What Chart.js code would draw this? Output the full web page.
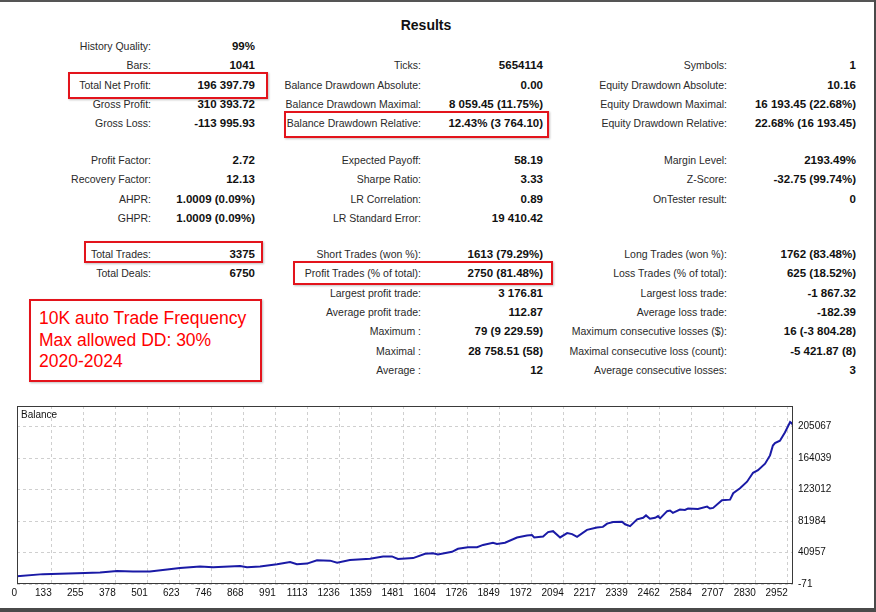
<!DOCTYPE html>
<html><head><meta charset="utf-8">
<script src="https://cdn.jsdelivr.net/npm/chart.js@4.4.1/dist/chart.umd.min.js"></script>
<style>
html,body{margin:0;padding:0;background:#fff;}
body{width:876px;height:612px;position:relative;overflow:hidden;font-family:"Liberation Sans",Arial,sans-serif;}
.fr{position:absolute;background:#555;}
.lbl{position:absolute;font-size:10.5px;color:#2a2a2a;line-height:14px;white-space:nowrap;text-align:right;}
.val{position:absolute;font-size:11.5px;font-weight:bold;color:#111;line-height:14px;white-space:nowrap;text-align:right;}
.box{position:absolute;border:2px solid #e3141c;box-sizing:border-box;box-shadow:1px 1px 2px rgba(0,0,0,.25);}
#title{position:absolute;left:0;width:852px;top:17px;text-align:center;font-weight:bold;font-size:14px;line-height:16px;color:#111;}
#note{position:absolute;left:39px;top:308px;color:#ff0000;font-size:17.5px;line-height:21.5px;white-space:nowrap;}
#c{position:absolute;left:0;top:395px;}
</style></head>
<body>
<div class="fr" style="left:0;top:0;width:876px;height:2px;"></div>
<div class="fr" style="right:0;top:0;width:2px;height:612px;background:#4a4a4a;"></div>
<div class="fr" style="left:0;bottom:0;width:876px;height:4px;background:#4a4a4a;"></div>
<div id="title">Results</div>
<div id="tbl"></div>
<div class="box" style="left:68px;top:72px;width:200px;height:27px;"></div>
<div class="box" style="left:284px;top:111px;width:265px;height:27px;"></div>
<div class="box" style="left:84px;top:241px;width:179px;height:22px;"></div>
<div class="box" style="left:293px;top:261px;width:260px;height:24px;"></div>
<div class="box" style="left:29px;top:299px;width:233px;height:83px;"></div>
<div id="note">10K auto Trade Frequency<br>Max allowed DD: 30%<br>2020-2024</div>
<canvas id="c" width="876" height="213"></canvas>
<script>
// ---- report table (18-row grid: rows 5 and 10 are blank separators) ----
const col1Labels = ['History Quality:','Bars:','Total Net Profit:','Gross Profit:','Gross Loss:','','Profit Factor:','Recovery Factor:','AHPR:','GHPR:','','Total Trades:','Total Deals:'];
const col1Values = ['99%','1041','196 397.79','310 393.72','-113 995.93','','2.72','12.13','1.0009 (0.09%)','1.0009 (0.09%)','','3375','6750'];
const col2Labels = ['','Ticks:','Balance Drawdown Absolute:','Balance Drawdown Maximal:','Balance Drawdown Relative:','','Expected Payoff:','Sharpe Ratio:','LR Correlation:','LR Standard Error:','','Short Trades (won %):','Profit Trades (% of total):','Largest profit trade:','Average profit trade:','Maximum :','Maximal :','Average :'];
const col2Values = ['','5654114','0.00','8 059.45 (11.75%)','12.43% (3 764.10)','','58.19','3.33','0.89','19 410.42','','1613 (79.29%)','2750 (81.48%)','3 176.81','112.87','79 (9 229.59)','28 758.51 (58)','12'];
const col3Labels = ['','Symbols:','Equity Drawdown Absolute:','Equity Drawdown Maximal:','Equity Drawdown Relative:','','Margin Level:','Z-Score:','OnTester result:','','','Long Trades (won %):','Loss Trades (% of total):','Largest loss trade:','Average loss trade:','Maximum consecutive losses ($):','Maximal consecutive loss (count):','Average consecutive losses:'];
const col3Values = ['','1','10.16','16 193.45 (22.68%)','22.68% (16 193.45)','','2193.49%','-32.75 (99.74%)','0','','','1762 (83.48%)','625 (18.52%)','-1 867.32','-182.39','16 (-3 804.28)','-5 421.87 (8)','3'];

// ---- balance chart ----
const xTicks = [0,133,255,378,501,623,746,868,991,1113,1236,1359,1481,1604,1726,1849,1972,2094,2217,2339,2462,2584,2707,2830,2952];
const yTicks = [-71,40957,81984,123012,164039,205067];
const balanceX = [0,100,230,318,383,444,509,575,624,701,751,854,881,931,996,1046,1072,1111,1149,1199,1226,1275,1352,1402,1436,1459,1517,1563,1593,1612,1666,1689,1727,1762,1785,1823,1838,1869,1915,1953,1972,1981,2015,2034,2053,2080,2107,2126,2145,2183,2221,2244,2260,2283,2317,2329,2348,2375,2398,2409,2424,2444,2455,2463,2490,2501,2512,2539,2558,2570,2608,2643,2654,2666,2700,2731,2743,2769,2796,2819,2838,2865,2884,2895,2903,2922,2941,2961,2968,2972];
const balanceY = [10000,12800,14100,15000,17000,16200,16200,18800,20900,22700,21800,23500,21800,22700,25600,28600,25600,26500,30800,30400,27800,31200,33000,35900,35900,32500,33700,39400,40100,38500,41900,45800,47800,47800,50900,53800,52200,53800,60600,63200,63700,60600,61900,67600,68800,60600,66300,65000,61500,70500,73500,74400,78600,80800,81200,77800,75300,84200,86300,89400,85000,86300,88500,85500,94900,95800,92700,97000,96500,98300,97800,100900,98300,99100,109000,109900,118300,124700,133300,144900,148300,156800,167600,180400,183700,186800,197400,211100,209300,206398];

// layout of table
function rowY(r){ if(r<=4) return 46+r*19.35; if(r<=9) return 160+(r-6)*19.35; return 254+(r-11)*19.35; }
const tbl=document.getElementById('tbl');
function addCol(labels, values, lblRight, valRight){
  labels.forEach((t,r)=>{
    if(!t) return;
    const d=document.createElement('div'); d.className='lbl'; d.textContent=t;
    d.style.right=(876-lblRight)+'px'; d.style.top=(rowY(r)-7)+'px'; tbl.appendChild(d);
  });
  values.forEach((t,r)=>{
    if(!t) return;
    const d=document.createElement('div'); d.className='val'; d.textContent=t;
    d.style.right=(876-valRight)+'px'; d.style.top=(rowY(r)-7)+'px'; tbl.appendChild(d);
  });
}
addCol(col1Labels,col1Values,151,255);
addCol(col2Labels,col2Values,421,543);
addCol(col3Labels,col3Values,727,856);

const framePlugin={id:'frame',afterDraw(chart){
  const {ctx,chartArea:a}=chart; ctx.save();
  ctx.strokeStyle='#3a3a3a'; ctx.lineWidth=1;
  ctx.strokeRect(Math.round(a.left)+0.5,Math.round(a.top)+0.5,Math.round(a.right-a.left)-1,Math.round(a.bottom-a.top)-1);
  ctx.fillStyle='#111'; ctx.font='10px "Liberation Sans", Arial'; ctx.textBaseline='middle';
  ctx.fillText('Balance',a.left+4,a.top+9);
  ctx.restore();
}};

new Chart(document.getElementById('c'),{
  type:'line',
  data:{datasets:[{data:balanceX.map((x,i)=>({x:x,y:balanceY[i]})),borderColor:'#1a1aa6',borderWidth:2,pointRadius:0,tension:0,fill:false}]},
  options:{
    responsive:false,animation:false,devicePixelRatio:1,
    layout:{padding:{left:17,top:7,right:0,bottom:0}},
    plugins:{legend:{display:false},tooltip:{enabled:false}},
    scales:{
      x:{type:'linear',min:0,max:2972,
        afterBuildTicks:s=>{s.ticks=xTicks.map(v=>({value:v}));},
        afterFit:s=>{s.height=24;},
        ticks:{align:'end',autoSkip:false,maxRotation:0,padding:3,color:'#111',font:{family:'"Liberation Sans", Arial',size:10},callback:v=>String(v)},
        grid:{color:'#cfcfcf',drawTicks:false},
        border:{display:false,dash:[3,3]}
      },
      y:{position:'right',min:-71,max:232000,
        afterBuildTicks:s=>{s.ticks=yTicks.map(v=>({value:v}));},
        afterFit:s=>{s.width=83;},
        ticks:{padding:5,color:'#111',font:{family:'"Liberation Sans", Arial',size:10},callback:v=>String(v)},
        grid:{color:'#cfcfcf',drawTicks:false},
        border:{display:false,dash:[3,3]}
      }
    }
  },
  plugins:[framePlugin]
});
</script>
</body></html>
